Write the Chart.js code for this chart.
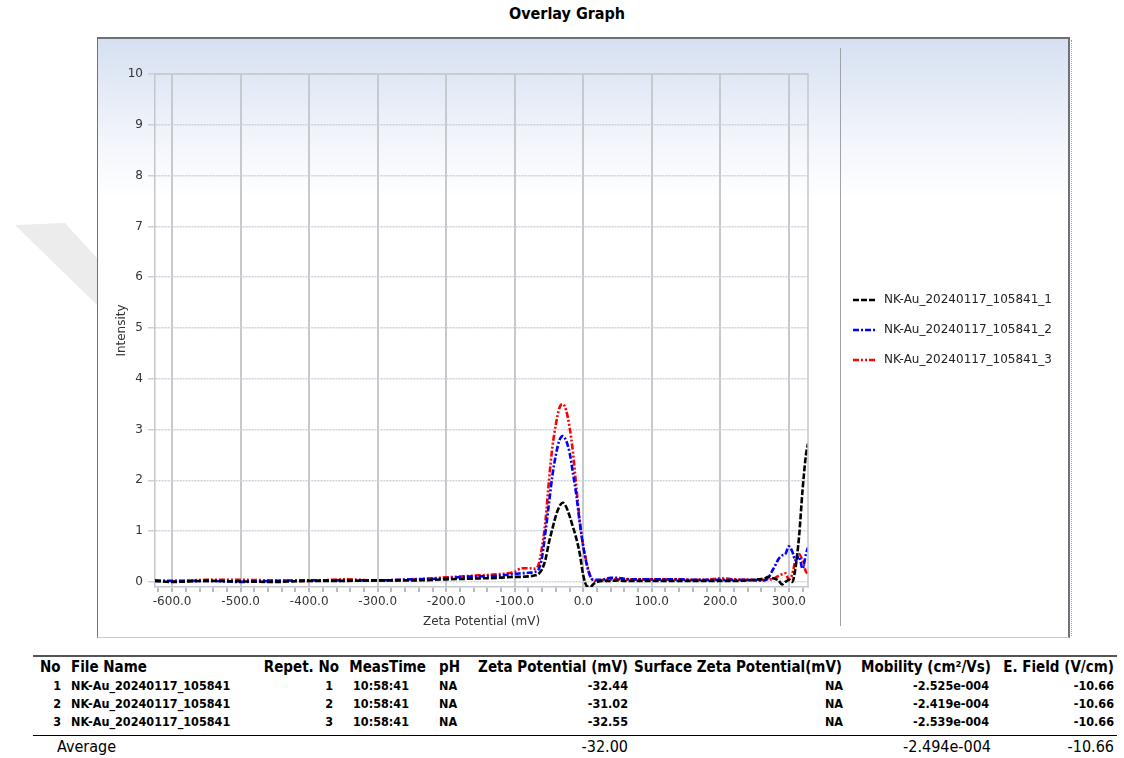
<!DOCTYPE html>
<html>
<head>
<meta charset="utf-8">
<script src="https://cdn.jsdelivr.net/npm/chart.js@4.4.1/dist/chart.umd.min.js"></script>
<style>
  html,body{margin:0;padding:0;background:#fff;width:1124px;height:758px;overflow:hidden;}
  #title{position:absolute;left:0;top:4px;width:1134px;text-align:center;font-family:"Liberation Sans Narrow","DejaVu Sans Condensed","Liberation Sans",sans-serif;font-weight:bold;font-size:16px;color:#000;}
  #panel{position:absolute;left:97px;top:37px;width:970px;height:598px;border-left:1px solid #6d7278;border-top:2px solid #6d7278;border-right:2px solid #6d7278;border-bottom:1px solid #c8cbd0;
    background:linear-gradient(to bottom,#d6e0f1 0px,#e4ebf6 50px,#f2f5fb 100px,#ffffff 160px,#ffffff 100%);}
  #panel2{position:absolute;left:1071px;top:40px;width:0;height:596px;border-left:1px dotted #9a9fa6;}
  #sep{position:absolute;left:840px;top:48px;width:1px;height:578px;background:#9ea3a9;}
  #wm{position:absolute;left:0;top:0;width:100px;height:320px;background:#ececec;clip-path:polygon(15px 225px,65px 223px,97px 258px,97px 305px);}
  #chart{position:absolute;left:0;top:0;}
  .t{position:absolute;font-family:"Liberation Sans Narrow","DejaVu Sans Condensed","Liberation Sans",sans-serif;color:#000;white-space:nowrap;}
  .h{font-weight:bold;font-size:15px;top:658px;}
  .r{font-weight:bold;font-size:12.5px;}
  .a{font-size:16px;top:737px;}
  .line{position:absolute;left:33px;width:1084px;}
</style>
</head>
<body>
<div id="wm"></div>
<div id="panel"></div>
<div id="panel2"></div>
<div id="title">Overlay Graph</div>
<canvas id="chart" width="1124" height="650"></canvas>
<div id="sep"></div>
<div id="table"></div>
<script>
// ---- data ----
const zeta = [-625,-600,-550,-500,-450,-400,-350,-300,-250,-200,-175,-150,-125,-100,-90,-80,-70,-65,-60,-55,-50,-45,-40,-35,-30,-25,-20,-15,-10,-5,0,5,10,15,20,30,40,50,60,80,100,120,140,160,180,200,220,240,255,265,270,275,280,285,290,295,300,305,310,315,320,325,328];
const run1 = [0.02,0.0,0.02,0.01,0.0,0.02,0.02,0.03,0.03,0.05,0.06,0.07,0.08,0.1,0.1,0.11,0.13,0.16,0.25,0.45,0.78,1.05,1.3,1.48,1.56,1.48,1.3,1.08,0.85,0.55,0.13,-0.08,-0.1,-0.04,0.0,0.02,0.02,0.03,0.02,0.02,0.02,0.02,0.02,0.02,0.02,0.02,0.02,0.03,0.05,0.07,0.1,0.08,0.06,0.03,-0.05,0.0,0.04,0.0,0.3,0.9,1.8,2.5,2.72];
const run2 = [0.02,0.02,0.02,0.0,0.02,0.03,0.03,0.03,0.05,0.07,0.1,0.11,0.12,0.16,0.17,0.18,0.2,0.25,0.5,1.0,1.55,2.1,2.5,2.78,2.87,2.78,2.55,2.14,1.7,1.15,0.7,0.35,0.12,0.04,0.04,0.05,0.08,0.08,0.06,0.05,0.05,0.05,0.05,0.04,0.04,0.04,0.04,0.04,0.03,0.03,0.08,0.2,0.32,0.45,0.52,0.55,0.7,0.6,0.42,0.5,0.26,0.55,0.68];
const run3 = [0.03,0.01,0.04,0.04,0.03,0.02,0.05,0.03,0.05,0.09,0.11,0.13,0.15,0.2,0.27,0.27,0.26,0.35,0.7,1.22,2.0,2.66,3.1,3.42,3.5,3.38,3.05,2.55,1.85,1.2,0.7,0.38,0.12,0.03,0.02,0.04,0.05,0.05,0.05,0.05,0.05,0.05,0.05,0.04,0.04,0.07,0.05,0.04,0.04,0.04,0.06,0.05,0.08,0.12,0.15,0.17,0.05,0.15,0.45,0.55,0.42,0.2,0.17];
const seriesNames = ["NK-Au_20240117_105841_1","NK-Au_20240117_105841_2","NK-Au_20240117_105841_3"];
const seriesColors = ["#000000","#0000ff","#ff0000"];
const seriesDash = [[6,2],[6,2,2,2],[6,2,2,2,2,2]];
const yTicks = [0,1,2,3,4,5,6,7,8,9,10];
const xMajorTicks = [-600,-500,-400,-300,-200,-100,0,100,200,300];

// ---- table data ----
const tblNo = ["1","2","3"];
const tblFile = ["NK-Au_20240117_105841","NK-Au_20240117_105841","NK-Au_20240117_105841"];
const tblRepet = ["1","2","3"];
const tblTime = ["10:58:41","10:58:41","10:58:41"];
const tblPH = ["NA","NA","NA"];
const tblZeta = ["-32.44","-31.02","-32.55"];
const tblSurf = ["NA","NA","NA"];
const tblMob = ["-2.525e-004","-2.419e-004","-2.539e-004"];
const tblField = ["-10.66","-10.66","-10.66"];
const avgZeta = "-32.00", avgMob = "-2.494e-004", avgField = "-10.66";

// build table
(function(){
  const T = document.getElementById('table');
  function add(txt, cls, x, y, right){
    const d = document.createElement('div');
    d.className = 't ' + cls;
    d.textContent = txt;
    if (right) { d.style.right = (1124 - x) + 'px'; } else { d.style.left = x + 'px'; }
    if (y !== null) d.style.top = y + 'px';
    T.appendChild(d);
  }
  const l1 = document.createElement('div'); l1.className='line'; l1.style.top='655px'; l1.style.height='2px'; l1.style.background='#555'; T.appendChild(l1);
  const l2 = document.createElement('div'); l2.className='line'; l2.style.top='735px'; l2.style.height='1px'; l2.style.background='#000'; T.appendChild(l2);
  add("No","h",40,null); add("File Name","h",71,null); add("Repet. No","h",339,null,true);
  add("MeasTime","h",426,null,true); add("pH","h",439,null); add("Zeta Potential (mV)","h",628,null,true);
  add("Surface Zeta Potential(mV)","h",842,null,true); add("Mobility (cm\u00b2/Vs)","h",991,null,true); add("E. Field (V/cm)","h",1114,null,true);
  const ys = [678,696,714];
  for (let i=0;i<3;i++){
    const y = ys[i];
    add(tblNo[i],"r",61,y,true); add(tblFile[i],"r",71,y); add(tblRepet[i],"r",333,y,true);
    add(tblTime[i],"r",409,y,true); add(tblPH[i],"r",439,y); add(tblZeta[i],"r",628,y,true);
    add(tblSurf[i],"r",843,y,true); add(tblMob[i],"r",989,y,true); add(tblField[i],"r",1114,y,true);
  }
  add("Average","a",57,null); add(avgZeta,"a",628,null,true); add(avgMob,"a",991,null,true); add(avgField,"a",1114,null,true);
})();

const runs = [run1, run2, run3];
const datasets = runs.map((r, i) => ({
  label: seriesNames[i],
  data: zeta.map((z, k) => ({x: z, y: r[k]})),
  borderColor: seriesColors[i],
  backgroundColor: seriesColors[i],
  borderDash: seriesDash[i],
  borderWidth: 2.6,
  pointRadius: 0,
  cubicInterpolationMode: 'monotone',
  fill: false
}));

const frame = {
  id: 'frame',
  afterDraw(chart){
    const {ctx, chartArea:a} = chart;
    ctx.save();
    ctx.strokeStyle = '#c3c7cc';
    ctx.lineWidth = 1.5;
    ctx.beginPath();
    ctx.moveTo(a.left, a.top); ctx.lineTo(a.right, a.top); ctx.lineTo(a.right, a.bottom);
    ctx.stroke();
    // legend drawn from datasets
    ctx.font = '12px "DejaVu Sans", sans-serif';
    ctx.textBaseline = 'middle';
    chart.data.datasets.forEach((ds, i) => {
      const y = 300 + i * 30;
      ctx.strokeStyle = ds.borderColor;
      ctx.lineWidth = 2.6;
      ctx.setLineDash(ds.borderDash);
      ctx.beginPath(); ctx.moveTo(853, y); ctx.lineTo(877, y); ctx.stroke();
      ctx.setLineDash([]);
      ctx.fillStyle = '#222';
      ctx.fillText(ds.label, 884, y);
    });
    ctx.restore();
  }
};

new Chart(document.getElementById('chart'), {
  type: 'line',
  data: { datasets },
  plugins: [frame],
  options: {
    responsive: false,
    animation: false,
    layout: { padding: { left: 108, right: 316, top: 74, bottom: 18 } },
    plugins: { legend: { display: false }, tooltip: { enabled: false }, title: { display: false } },
    scales: {
      x: {
        type: 'linear', min: -625, max: 328,
        afterBuildTicks: s => { const t=[]; for (let v=-620; v<=320; v+=20) t.push({value:v}); s.ticks = t; },
        afterFit: s => { s.height = 45; },
        ticks: {
          autoSkip: false, maxRotation: 0, padding: 3,
          color: '#333', font: { family: 'DejaVu Sans', size: 12 },
          callback: v => (xMajorTicks.includes(v) ? v.toFixed(1) : '')
        },
        grid: {
          color: c => (c.tick && xMajorTicks.includes(c.tick.value)) ? '#c6cace' : 'rgba(0,0,0,0)',
          tickColor: '#b8bcc2', lineWidth: 2, tickLength: 5, drawTicks: true
        },
        border: { display: true, color: '#c3c7cc', width: 1.5 },
        title: { display: true, text: 'Zeta Potential (mV)', color: '#333', font: { family: 'DejaVu Sans', size: 12 }, padding: { top: 0, bottom: 3 } }
      },
      y: {
        min: -0.1, max: 10,
        afterBuildTicks: s => { s.ticks = yTicks.map(v => ({value: v})); },
        afterFit: s => { s.width = 47; },
        ticks: { padding: 5, color: '#333', font: { family: 'DejaVu Sans', size: 12 } },
        grid: { color: '#cdd1d6', lineWidth: 1.5, tickLength: 7 },
        border: { display: true, color: '#c3c7cc', width: 1.5, dash: [2,1] },
        title: { display: true, text: 'Intensity', color: '#333', font: { family: 'DejaVu Sans', size: 12 }, padding: { top: 7, bottom: 0 } }
      }
    }
  }
});
</script>
</body>
</html>
